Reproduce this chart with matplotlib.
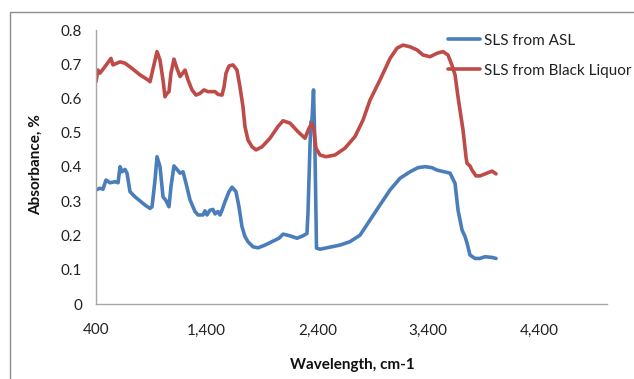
import matplotlib
matplotlib.use("Agg")
import matplotlib.pyplot as plt
from matplotlib.patches import Rectangle

plt.rcParams['font.family'] = ['Lato', 'DejaVu Sans']

# Series: SLS from Black Liquor (red)
bl_x = [400, 418, 436, 481, 535, 553, 617, 662, 725, 797, 870, 888, 933, 951, 978,
        1005, 1023, 1041, 1059, 1077, 1104, 1131, 1159, 1204, 1231, 1267, 1303, 1339,
        1375, 1411, 1475, 1502, 1538, 1556, 1574, 1601, 1637, 1673, 1700, 1727, 1745,
        1772, 1809, 1845, 1899, 1971, 2043, 2089, 2152, 2224, 2287, 2323, 2350, 2368,
        2386, 2423, 2477, 2558, 2648, 2739, 2811, 2874, 2964, 3055, 3118, 3172, 3235,
        3298, 3353, 3416, 3479, 3533, 3578, 3614, 3642, 3669, 3714, 3741, 3750, 3777,
        3795, 3831, 3867, 3930, 3976, 4012]
bl_y = [0.649, 0.683, 0.674, 0.693, 0.717, 0.698, 0.707, 0.703, 0.688, 0.669, 0.654,
        0.649, 0.712, 0.737, 0.712, 0.654, 0.605, 0.615, 0.620, 0.674, 0.715, 0.688,
        0.664, 0.683, 0.654, 0.625, 0.610, 0.615, 0.625, 0.620, 0.620, 0.612, 0.610,
        0.634, 0.674, 0.695, 0.698, 0.683, 0.634, 0.576, 0.518, 0.479, 0.459, 0.450,
        0.459, 0.484, 0.518, 0.535, 0.528, 0.503, 0.484, 0.513, 0.528, 0.508, 0.455,
        0.435, 0.430, 0.435, 0.455, 0.489, 0.537, 0.595, 0.654, 0.717, 0.747, 0.756,
        0.751, 0.742, 0.727, 0.722, 0.732, 0.737, 0.727, 0.697, 0.669, 0.604, 0.508,
        0.429, 0.411, 0.403, 0.391, 0.374, 0.374, 0.382, 0.388, 0.380]

# Series: SLS from ASL (blue)
asl_x = [400, 436, 463, 490, 526, 572, 599, 617, 635, 662, 680, 707, 752, 797, 842,
         888, 906, 933, 951, 978, 1005, 1032, 1059, 1077, 1104, 1131, 1159, 1186, 1213,
         1249, 1294, 1321, 1366, 1384, 1402, 1429, 1456, 1475, 1502, 1520, 1538, 1565,
         1601, 1628, 1664, 1691, 1718, 1745, 1772, 1818, 1863, 1926, 1989, 2052, 2089,
         2152, 2215, 2269, 2305, 2314, 2323, 2332, 2341, 2350, 2364, 2377, 2391, 2423,
         2513, 2603, 2694, 2784, 2874, 2964, 3055, 3145, 3235, 3307, 3371, 3434, 3479,
         3597, 3642, 3669, 3705, 3732, 3750, 3777, 3822, 3867, 3912, 3976, 4012]
asl_y = [0.333, 0.338, 0.335, 0.362, 0.354, 0.357, 0.354, 0.401, 0.386, 0.393, 0.382,
         0.328, 0.313, 0.301, 0.289, 0.279, 0.284, 0.362, 0.430, 0.401, 0.313, 0.302,
         0.284, 0.343, 0.403, 0.393, 0.382, 0.386, 0.352, 0.304, 0.270, 0.260, 0.260,
         0.272, 0.260, 0.274, 0.276, 0.263, 0.270, 0.260, 0.274, 0.299, 0.328, 0.341,
         0.328, 0.284, 0.226, 0.197, 0.182, 0.167, 0.164, 0.172, 0.182, 0.192, 0.204,
         0.199, 0.192, 0.199, 0.206, 0.266, 0.362, 0.459, 0.532, 0.537, 0.625, 0.450,
         0.163, 0.160, 0.166, 0.172, 0.182, 0.201, 0.245, 0.289, 0.333, 0.367, 0.386,
         0.398, 0.401, 0.398, 0.391, 0.382, 0.352, 0.274, 0.216, 0.197, 0.178, 0.143,
         0.133, 0.133, 0.138, 0.136, 0.133]

x_ticks = [400, 1400, 2400, 3400, 4400]
x_tick_labels = ["400", "1,400", "2,400", "3,400", "4,400"]
y_ticks = [0, 0.1, 0.2, 0.3, 0.4, 0.5, 0.6, 0.7, 0.8]
y_tick_labels = ["0", "0.1", "0.2", "0.3", "0.4", "0.5", "0.6", "0.7", "0.8"]

W, H = 634, 379
fig = plt.figure(figsize=(W / 100, H / 100), dpi=100)
fig.patch.set_facecolor('white')

# outer chart border
fig.patches.append(Rectangle((10 / W, -0.1), 2.0, 1 - 12 / H + 0.1,
                             transform=fig.transFigure, fill=False,
                             edgecolor='#8c8c8c', linewidth=1.0))

ax = fig.add_axes([96 / W, 1 - 304 / H, (607 - 96) / W, (304 - 30) / H])
ax.plot(asl_x, asl_y, color='#4A7EBB', lw=2.6, label='SLS from ASL',
        solid_joinstyle='round', solid_capstyle='round')
ax.plot(bl_x, bl_y, color='#BE4B48', lw=2.6, label='SLS from Black Liquor',
        solid_joinstyle='round', solid_capstyle='round')

ax.set_xlim(400, 5014)
ax.set_ylim(0, 0.8)
ax.set_xticks(x_ticks)
ax.set_xticklabels(x_tick_labels)
ax.set_yticks(y_ticks)
ax.set_yticklabels(y_tick_labels)
ax.tick_params(length=0, labelsize=11, colors='#222222')
ax.tick_params(axis='x', pad=14)
ax.tick_params(axis='y', pad=10)
for s in ['top', 'right']:
    ax.spines[s].set_visible(False)
for s in ['left', 'bottom']:
    ax.spines[s].set_color('#a6a6a6')
    ax.spines[s].set_linewidth(1.0)

fig.text(352 / W, 1 - 365 / H, 'Wavelength, cm-1', ha='center', va='center',
         fontsize=11, fontweight='bold', color='#111111')
fig.text(36 / W, 1 - 165 / H, 'Absorbance, %', ha='center', va='center',
         rotation=90, fontsize=11, fontweight='bold', color='#111111')

leg = fig.legend(loc='upper left', bbox_to_anchor=(440 / W, 1 - 26 / H),
                 frameon=False, fontsize=11, handlelength=2.1,
                 handletextpad=0.3, labelspacing=1.05, borderpad=0)
for t in leg.get_texts():
    t.set_color('#222222')

fig.savefig('out.png', dpi=100)
